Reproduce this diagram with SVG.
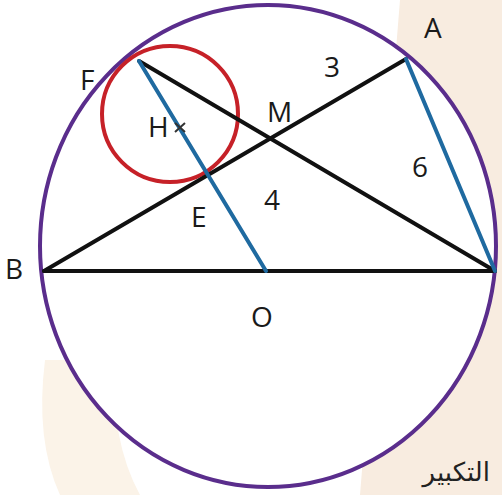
<svg xmlns="http://www.w3.org/2000/svg" width="502" height="495" viewBox="0 0 502 495">
<style>
.lbl{font-family:"Open Sans","Liberation Sans",sans-serif;font-size:28px;fill:#1a1a1a}
.blk{stroke:#111;stroke-width:4;stroke-linecap:round;fill:none}
.blu{stroke:#1f6aa0;stroke-width:4;stroke-linecap:round;fill:none}
</style>
<rect width="502" height="495" fill="#ffffff"/>
<path d="M400 0 H502 V495 H360 Z" fill="#f8ece0"/>
<path d="M45 360 Q35 440 60 495 H140 Q110 440 115 360 Z" fill="#fbf3e8"/>
<ellipse cx="268" cy="246" rx="228" ry="241" fill="#ffffff"/>
<g id="circle-main"><ellipse cx="268" cy="246" rx="228" ry="241" fill="none" stroke="#5a2d8c" stroke-width="4"/></g>
<g id="circle-H"><circle cx="170" cy="114" r="68" fill="none" stroke="#c62128" stroke-width="4"/></g>
<g id="connectors">
<line class="blk" x1="44" y1="271" x2="495" y2="271"/>
<line class="blk" x1="44" y1="271" x2="406" y2="59"/>
<line class="blk" x1="139" y1="61" x2="495" y2="271"/>
<line class="blu" x1="139" y1="61" x2="266" y2="271"/>
<line class="blu" x1="406" y1="59" x2="495" y2="271"/>
</g>
<g id="node-F"><text class="lbl" x="80" y="90">F</text></g>
<g id="node-A"><text class="lbl" x="424" y="38">A</text></g>
<g id="node-M"><text class="lbl" x="267" y="122">M</text></g>
<g id="node-H"><text class="lbl" x="148" y="137">H</text><path d="M175 123 L185 132 M185 123 L175 132" stroke="#333" stroke-width="2"/></g>
<g id="node-E"><text class="lbl" x="191" y="227">E</text></g>
<g id="node-B"><text class="lbl" x="5" y="279">B</text></g>
<g id="node-O"><text class="lbl" x="251" y="327">O</text></g>
<g id="label-3"><text class="lbl" x="324" y="77">3</text></g>
<g id="label-6"><text class="lbl" x="412" y="177">6</text></g>
<g id="label-4"><text class="lbl" x="264" y="210">4</text></g>
<text x="490" y="481" text-anchor="end" font-family="'Noto Sans','DejaVu Sans',sans-serif" font-size="26" fill="#222">التكبير</text>
</svg>
